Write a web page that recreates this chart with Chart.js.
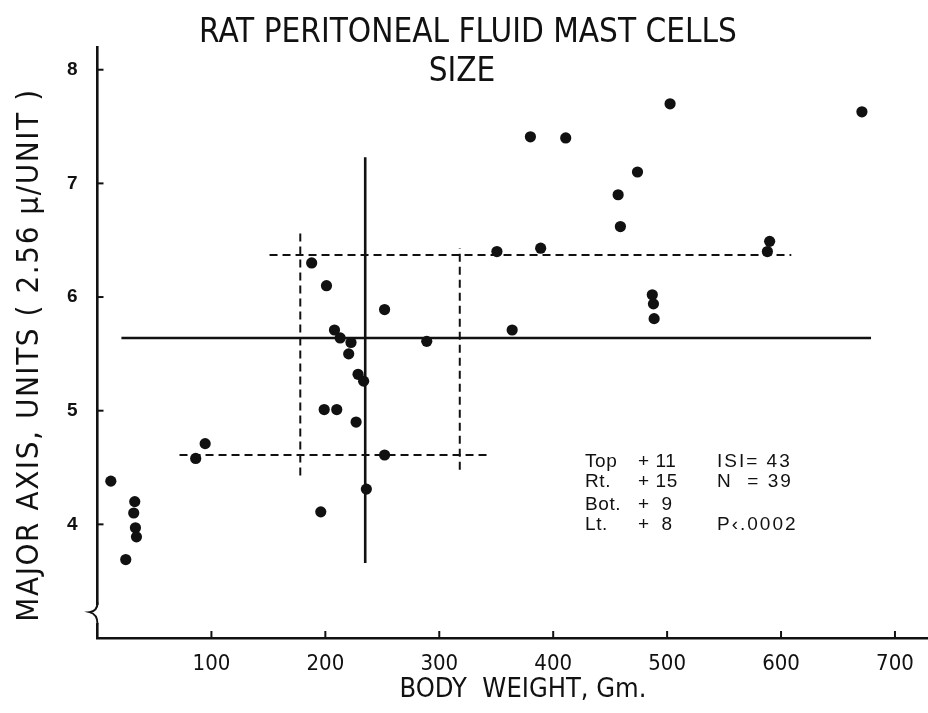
<!DOCTYPE html>
<html>
<head>
<meta charset="utf-8">
<script src="https://cdn.jsdelivr.net/npm/chart.js@4.4.1/dist/chart.umd.min.js"></script>
<style>
  html, body { margin: 0; padding: 0; background: #fff; }
  #wrap { width: 928px; height: 713px; position: relative; }
</style>
</head>
<body>
<div id="wrap"><canvas id="c" width="928" height="713"></canvas></div>
<script>
// ---- data ----
const bodyWeight = [11.7, 32.7, 31.8, 33.3, 34.2, 24.8, 94.5, 86.2,
  188, 201, 252, 208, 213, 222.5, 220.5, 228.7, 233.6, 199, 210, 227, 252, 236, 196,
  380, 411, 474, 457, 459, 350.6, 389, 364, 289, 502.6, 671, 590, 588, 487, 488, 488.6];
const majorAxis = [4.38, 4.20, 4.10, 3.97, 3.89, 3.69, 4.71, 4.58,
  6.30, 6.10, 5.89, 5.71, 5.64, 5.60, 5.50, 5.32, 5.26, 5.01, 5.01, 4.90, 4.61, 4.31, 4.11,
  7.41, 7.40, 7.10, 6.90, 6.62, 6.40, 6.43, 5.71, 5.61, 7.70, 7.63, 6.49, 6.40, 6.02, 5.94, 5.81];

const solidVertical   = [{x: 235, y: 3.66}, {x: 235, y: 7.23}];
const solidHorizontal = [{x: 21,  y: 5.64}, {x: 679, y: 5.64}];
const dashedUpper     = [{x: 151, y: 6.37}, {x: 609, y: 6.37}];
const dashedLower     = [{x: 72,  y: 4.61}, {x: 345, y: 4.61}];
const dashedLeft      = [{x: 178, y: 4.43}, {x: 178, y: 6.57}];
const dashedRight     = [{x: 318, y: 4.48}, {x: 318, y: 6.43}];

const xTickValues = [100, 200, 300, 400, 500, 600, 700];
const yTickValues = [4, 5, 6, 7, 8];

const titleLines = ['RAT PERITONEAL FLUID MAST CELLS', 'SIZE'];
const xAxisTitle = 'BODY  WEIGHT, Gm.';
const yAxisTitle = 'MAJOR AXIS, UNITS ( 2.56 \u03bc/UNIT )';
const statsLeft = [['Top', '+ 11'], ['Rt.', '+ 15'], ['Bot.', '+  9'], ['Lt.', '+  8']];
const statsRight = ['ISI= 43', 'N  = 39', '', 'P\u2039.0002'];

// ---- chart ----
const pts = bodyWeight.map((x, i) => ({x, y: majorAxis[i]}));
const condensed = '"DejaVu Sans Condensed", "Liberation Sans Narrow", sans-serif';
const helv = '"Liberation Sans", Arial, sans-serif';

function lineDs(data, dashed) {
  return {
    type: 'line', data, showLine: true, fill: false,
    borderColor: '#111', borderWidth: dashed ? 2 : 2.6,
    borderDash: dashed ? [8, 5] : [], pointRadius: 0, pointHoverRadius: 0,
    order: 2
  };
}

const decor = {
  id: 'decor',
  afterDraw(chart) {
    const ctx = chart.ctx, xs = chart.scales.x, ys = chart.scales.y;
    const ca = chart.chartArea;
    ctx.save();
    ctx.strokeStyle = '#111';
    ctx.lineWidth = 2;
    // inward tick marks
    yTickValues.forEach(v => {
      const py = ys.getPixelForValue(v);
      ctx.beginPath(); ctx.moveTo(ca.left, py); ctx.lineTo(ca.left + 6, py); ctx.stroke();
    });
    xTickValues.forEach(v => {
      const px = xs.getPixelForValue(v);
      ctx.beginPath(); ctx.moveTo(px, ca.bottom); ctx.lineTo(px, ca.bottom - 7); ctx.stroke();
    });
    // axis break squiggle
    const by = ys.getPixelForValue(3.21), bx = ca.left;
    ctx.fillStyle = '#fff';
    ctx.fillRect(bx - 3, by - 9, 6, 18);
    ctx.beginPath();
    ctx.moveTo(bx, by - 12);
    ctx.quadraticCurveTo(bx, by - 3, bx - 8, by - 2);
    ctx.quadraticCurveTo(bx, by, bx, by + 10);
    ctx.stroke();
    // title
    ctx.fillStyle = '#111';
    ctx.textAlign = 'center';
    ctx.textBaseline = 'middle';
    ctx.font = '33px ' + condensed;
    ctx.fillText(titleLines[0], 468, 33);
    ctx.fillText(titleLines[1], 462, 72);
    // x axis title
    ctx.font = '27px ' + condensed;
    ctx.fillText(xAxisTitle, 523, 690);
    // y axis title
    ctx.save();
    ctx.translate(30, 355);
    ctx.rotate(-Math.PI / 2);
    ctx.font = '31px ' + condensed;
    ctx.letterSpacing = '1.6px';
    ctx.fillText(yAxisTitle, 0, 0);
    ctx.restore();
    // stats box
    ctx.font = '19px ' + helv;
    ctx.letterSpacing = '0.6px';
    ctx.textAlign = 'left';
    const rows = [462, 482, 505, 525];
    statsLeft.forEach((r, i) => {
      ctx.fillText(r[0], 585, rows[i]);
      ctx.fillText(r[1], 638, rows[i]);
    });
    ctx.letterSpacing = '2px';
    statsRight.forEach((t, i) => { if (t) ctx.fillText(t, 717, rows[i]); });
    ctx.restore();
  }
};

new Chart(document.getElementById('c'), {
  type: 'scatter',
  data: {
    datasets: [
      { label: 'cells', data: pts, backgroundColor: '#111', borderColor: '#111',
        pointRadius: 5.6, pointHoverRadius: 5.6, borderWidth: 0, order: 1 },
      lineDs(solidVertical, false),
      lineDs(solidHorizontal, false),
      lineDs(dashedUpper, true),
      lineDs(dashedLower, true),
      lineDs(dashedLeft, true),
      lineDs(dashedRight, true)
    ]
  },
  plugins: [decor],
  options: {
    responsive: false,
    animation: false,
    events: [],
    layout: { autoPadding: false, padding: { top: 47, left: 0, right: 0, bottom: 0 } },
    plugins: { legend: { display: false }, tooltip: { enabled: false }, title: { display: false } },
    scales: {
      x: {
        type: 'linear', min: 0, max: 729,
        afterBuildTicks: s => { s.ticks = xTickValues.map(v => ({value: v})); },
        afterFit: s => { s.height = 75; s.paddingLeft = 0; s.paddingRight = 0; },
        grid: { display: false, drawTicks: false },
        border: { display: true, color: '#111', width: 2.6 },
        ticks: { color: '#111', padding: 13, font: { family: condensed, size: 22 } }
      },
      y: {
        type: 'linear', min: 3, max: 8.2,
        afterBuildTicks: s => { s.ticks = yTickValues.map(v => ({value: v})); },
        afterFit: s => { s.width = 97.5; s.paddingTop = 0; s.paddingBottom = 0; },
        grid: { display: false, drawTicks: false },
        border: { display: true, color: '#111', width: 2.6 },
        ticks: { color: '#111', padding: 20, font: { family: helv, size: 19, weight: 'bold' } }
      }
    }
  }
});
</script>
</body>
</html>
